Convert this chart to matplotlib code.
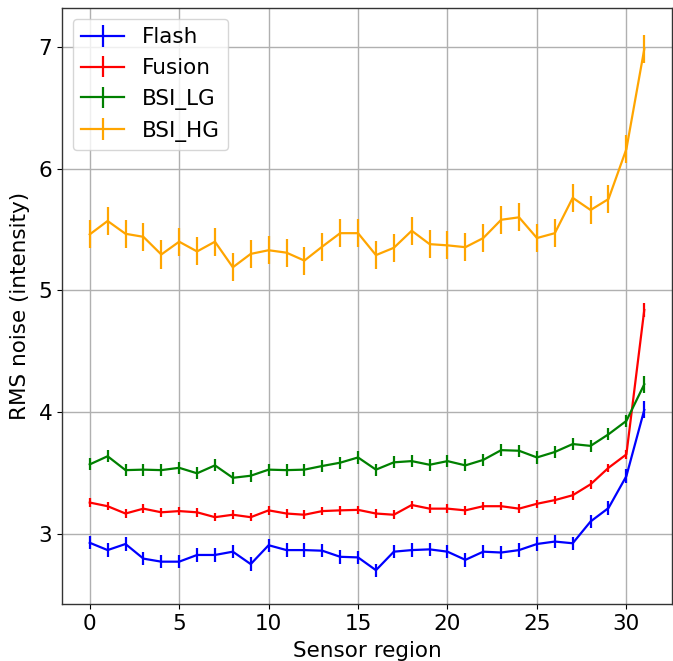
import numpy as np
import matplotlib
matplotlib.use("Agg")
import matplotlib.pyplot as plt

regions = np.arange(32)

flash = [2.93, 2.87, 2.92, 2.80, 2.775, 2.775, 2.83, 2.83, 2.857, 2.755,
         2.91, 2.87, 2.87, 2.865, 2.815, 2.81, 2.705, 2.857, 2.87, 2.876,
         2.857, 2.79, 2.857, 2.85, 2.87, 2.92, 2.94, 2.926, 3.105, 3.215,
         3.477, 4.02]
fusion = [3.26, 3.23, 3.17, 3.21, 3.18, 3.19, 3.18, 3.14, 3.16, 3.14,
          3.196, 3.17, 3.16, 3.19, 3.196, 3.20, 3.17, 3.16, 3.24, 3.21,
          3.21, 3.196, 3.23, 3.23, 3.21, 3.25, 3.28, 3.32, 3.41, 3.545,
          3.655, 4.84]
bsi_lg = [3.573, 3.64, 3.526, 3.53, 3.526, 3.545, 3.50, 3.565, 3.463, 3.48,
          3.53, 3.526, 3.53, 3.56, 3.587, 3.63, 3.53, 3.59, 3.60, 3.57,
          3.60, 3.565, 3.61, 3.69, 3.685, 3.63, 3.675, 3.74, 3.725, 3.82,
          3.93, 4.23]
bsi_hg = [5.46, 5.57, 5.465, 5.44, 5.295, 5.40, 5.32, 5.40, 5.19, 5.30,
          5.33, 5.31, 5.245, 5.36, 5.47, 5.47, 5.29, 5.35, 5.49, 5.38,
          5.37, 5.355, 5.43, 5.58, 5.60, 5.43, 5.47, 5.76, 5.66, 5.75,
          6.16, 6.98]

flash_err = [0.055] * 31 + [0.07]
fusion_err = [0.035] * 31 + [0.06]
bsi_lg_err = [0.05] * 31 + [0.07]
bsi_hg_err = [0.115] * 32

series = [
    ("Flash", flash, flash_err, "blue"),
    ("Fusion", fusion, fusion_err, "red"),
    ("BSI_LG", bsi_lg, bsi_lg_err, "green"),
    ("BSI_HG", bsi_hg, bsi_hg_err, "orange"),
]

fs = 15.5
fig = plt.figure(figsize=(6.73, 6.61), dpi=100)
ax = fig.add_axes([62 / 673, 57 / 661, 610 / 673, 596 / 661])

for name, vals, errs, color in series:
    ax.errorbar(regions, vals, yerr=errs, color=color, label=name, lw=1.6,
                elinewidth=1.6)

ax.grid(True, color="#b0b0b0", lw=1.0)
for sp in ax.spines.values():
    sp.set_color("#333333")
    sp.set_linewidth(1.0)
ax.set_xlabel("Sensor region", fontsize=fs, labelpad=5)
ax.set_ylabel("RMS noise (intensity)", fontsize=fs, labelpad=6)
ax.tick_params(labelsize=fs)
ax.set_xticks([0, 5, 10, 15, 20, 25, 30])
ax.set_yticks([3, 4, 5, 6, 7])
ax.legend(loc="upper left", fontsize=fs)

fig.savefig("out.png", dpi=100)
